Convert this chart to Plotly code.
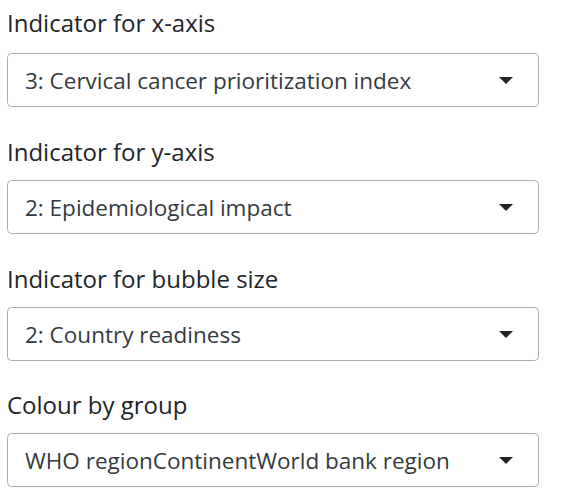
import plotly.graph_objects as go

labels = ["Indicator for x-axis", "Indicator for y-axis",
          "Indicator for bubble size", "Colour by group"]
selected = ["3: Cervical cancer prioritization index", "2: Epidemiological impact",
            "2: Country readiness", "WHO regionContinentWorld bank region"]

W, H = 561, 504
FONT = "Open Sans"
label_y = [22, 151, 278, 404]
box_top = [53, 180, 307, 433]
box_h = 54
box_x0, box_x1 = 7, 539

fig = go.Figure()
fig.add_trace(go.Scatter(x=[0, W], y=[0, H], mode="markers",
                         marker=dict(opacity=0), hoverinfo="skip", showlegend=False))

shapes = []
annotations = []

def rounded_rect(x0, y0, x1, y1, r):
    return (f"M{x0+r},{y0} L{x1-r},{y0} Q{x1},{y0} {x1},{y0+r} "
            f"L{x1},{y1-r} Q{x1},{y1} {x1-r},{y1} L{x0+r},{y1} "
            f"Q{x0},{y1} {x0},{y1-r} L{x0},{y0+r} Q{x0},{y0} {x0+r},{y0} Z")

for lab, sel, ly, bt in zip(labels, selected, label_y, box_top):
    annotations.append(dict(x=6, y=ly, xref="x", yref="y", text=lab, showarrow=False,
                            xanchor="left", yanchor="middle", borderpad=0,
                            font=dict(family=FONT, size=24, color="#212529")))
    shapes.append(dict(type="path",
                       path=rounded_rect(box_x0 + 0.5, bt + 0.5, box_x1 - 0.5, bt + box_h - 0.5, 4),
                       xref="x", yref="y", line=dict(color="#a9aeb3", width=1), fillcolor="white"))
    cy = bt + box_h / 2
    annotations.append(dict(x=24, y=cy, xref="x", yref="y", text=sel, showarrow=False,
                            xanchor="left", yanchor="middle", borderpad=0,
                            font=dict(family=FONT, size=22.5, color="#343a40")))
    ax = 506
    shapes.append(dict(type="path", path=f"M{ax-7},{cy-3} L{ax+7},{cy-3} L{ax},{cy+4} Z",
                       xref="x", yref="y", line=dict(width=0), fillcolor="#212529"))

fig.update_layout(
    width=W, height=H, margin=dict(l=0, r=0, t=0, b=0),
    paper_bgcolor="white", plot_bgcolor="white",
    xaxis=dict(range=[0, W], visible=False, fixedrange=True),
    yaxis=dict(range=[H, 0], visible=False, fixedrange=True),
    shapes=shapes, annotations=annotations, showlegend=False,
)
fig.write_html("out.html", config={"displayModeBar": False},
               post_script="document.body.style.margin='0';")
